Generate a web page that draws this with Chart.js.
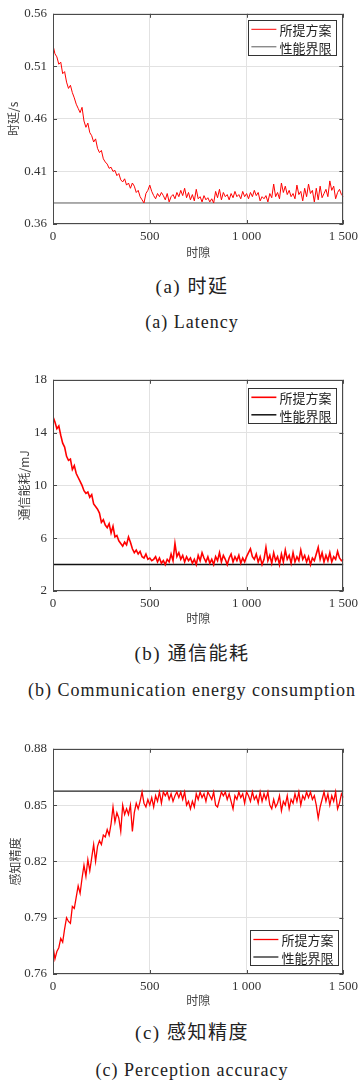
<!DOCTYPE html>
<html>
<head>
<meta charset="utf-8">
<script src="https://cdn.jsdelivr.net/npm/chart.js@4.4.0/dist/chart.umd.min.js"></script>
<style>
  body { margin: 0; width: 363px; height: 1085px; background: #fff; position: relative; overflow: hidden;
         font-family: "Liberation Serif", "Noto Sans CJK SC", serif; color: #222; }
  .box { position: absolute; left: 0; width: 363px; }
  .cap { position: absolute; left: 0; width: 384px; text-align: center; line-height: 22px; white-space: nowrap; }
  .zh { font-size: 19px; letter-spacing: 1.5px; }
  .en { font-size: 18px; letter-spacing: 1px; }
</style>
</head>
<body>

<div class="box" id="w1" style="top:0px;height:262px"><canvas id="c1"></canvas></div>
<div class="cap zh" style="top:276px">(a) 时延</div>
<div class="cap en" style="top:311px">(a) Latency</div>

<div class="box" id="w2" style="top:366px;height:262px"><canvas id="c2"></canvas></div>
<div class="cap zh" style="top:643px">(b) 通信能耗</div>
<div class="cap en" style="top:679px">(b) Communication energy consumption</div>

<div class="box" id="w3" style="top:735px;height:275px"><canvas id="c3"></canvas></div>
<div class="cap zh" style="top:1022px">(c) 感知精度</div>
<div class="cap en" style="top:1059px">(c) Perception accuracy</div>

<script>
// time slots, every 10th slot
const slots = Array.from({length: 151}, (_, i) => i * 10);
const xTicks = [0, 500, 1000, 1500];
const xTickLabels = ['0', '500', '1 000', '1 500'];
const seriesNames = ['所提方案', '性能界限'];

// (a) latency
const latency = [
  0.530, 0.522, 0.519, 0.512, 0.514, 0.503, 0.505, 0.495, 0.489, 0.492,
  0.485, 0.480, 0.474, 0.470, 0.466, 0.471, 0.458, 0.452, 0.456, 0.447,
  0.444, 0.438, 0.441, 0.432, 0.428, 0.430, 0.422, 0.419, 0.417, 0.413,
  0.414, 0.410, 0.411, 0.406, 0.408, 0.402, 0.400, 0.403, 0.397, 0.399,
  0.394, 0.399, 0.396, 0.390, 0.392, 0.386, 0.383, 0.380, 0.389, 0.392,
  0.397, 0.391, 0.387, 0.384, 0.389, 0.386, 0.390, 0.387, 0.383, 0.389,
  0.381, 0.386, 0.388, 0.384, 0.390, 0.386, 0.392, 0.387, 0.394, 0.385,
  0.390, 0.383, 0.388, 0.382, 0.393, 0.384, 0.386, 0.381, 0.387, 0.383,
  0.385, 0.381, 0.384, 0.380, 0.391, 0.385, 0.393, 0.383, 0.390, 0.386,
  0.388, 0.383, 0.389, 0.385, 0.391, 0.386, 0.388, 0.384, 0.391, 0.386,
  0.389, 0.384, 0.390, 0.386, 0.392, 0.387, 0.390, 0.382, 0.386, 0.384,
  0.387, 0.381, 0.389, 0.385, 0.398, 0.386, 0.390, 0.384, 0.399, 0.390,
  0.396, 0.388, 0.392, 0.386, 0.389, 0.384, 0.397, 0.388, 0.391, 0.382,
  0.394, 0.386, 0.398, 0.389, 0.392, 0.381, 0.394, 0.383, 0.396, 0.385,
  0.389, 0.393, 0.386, 0.401, 0.392, 0.396, 0.384, 0.390, 0.393, 0.388,
  0.386
];
const latencyBound = 0.38;
const latencyTicks = [0.36, 0.41, 0.46, 0.51, 0.56];
const latencyTickLabels = ['0.36', '0.41', '0.46', '0.51', '0.56'];

// (b) communication energy
const energy = [
  15.2, 14.8, 14.3, 14.5, 13.8, 13.2, 12.9, 12.2, 11.9, 12.0,
  11.2, 11.5, 10.9, 10.6, 10.3, 10.0, 9.6, 9.4, 9.5, 9.1,
  9.3, 8.6, 8.4, 8.2, 7.9, 7.2, 7.4, 7.0, 6.8, 7.1,
  6.4, 6.9, 6.1, 6.2, 5.8, 5.6, 5.4, 5.7, 5.5, 6.1,
  5.7, 5.2, 4.9, 5.1, 4.8, 5.0, 4.6, 4.5, 4.8, 4.4,
  4.5, 4.3, 4.4, 4.6, 4.2, 4.5, 4.1, 4.3, 4.0, 4.4,
  4.2, 4.8, 4.3, 5.6, 4.6, 4.9, 4.4, 4.7, 4.2, 4.6,
  4.3, 4.5, 4.1, 4.4, 4.0, 4.7, 4.3, 4.9, 4.5, 4.2,
  4.6, 4.1, 4.4, 4.0, 4.6, 4.3, 4.9, 4.2, 4.7, 4.4,
  4.0, 4.5, 4.8, 4.2, 4.6, 4.3, 4.7, 4.1, 4.5, 4.2,
  4.6, 4.9, 5.2, 4.6, 4.4, 4.8, 4.2, 4.6, 4.0, 4.4,
  5.3, 4.3, 4.7, 4.1, 4.9, 4.3, 4.6, 4.0, 4.8, 4.2,
  5.1, 4.4, 4.7, 4.1, 4.9, 4.2, 4.6, 4.3, 5.1, 4.4,
  4.7, 4.2, 4.6, 4.0, 4.5, 4.3, 4.8, 5.3, 4.4, 4.9,
  4.2, 4.7, 4.3, 4.9, 4.2, 4.6, 4.4, 5.0, 4.5, 4.3,
  4.4
];
const energyBound = 4;
const energyTicks = [2, 6, 10, 14, 18];
const energyTickLabels = ['2', '6', '10', '14', '18'];

// (c) perception accuracy
const accuracy = [
  0.775, 0.768, 0.772, 0.774, 0.779, 0.777, 0.784, 0.790, 0.788, 0.787,
  0.796, 0.795, 0.801, 0.807, 0.803, 0.811, 0.818, 0.812, 0.821, 0.815,
  0.822, 0.829, 0.820, 0.828, 0.831, 0.829, 0.834, 0.833, 0.837, 0.834,
  0.840, 0.849, 0.841, 0.846, 0.843, 0.836, 0.850, 0.845, 0.848, 0.845,
  0.850, 0.836, 0.846, 0.851, 0.848, 0.852, 0.857, 0.851, 0.849, 0.853,
  0.850, 0.854, 0.849, 0.855, 0.852, 0.857, 0.851, 0.857, 0.855, 0.857,
  0.853, 0.856, 0.852, 0.855, 0.857, 0.854, 0.857, 0.853, 0.857, 0.850,
  0.852, 0.848, 0.852, 0.849, 0.856, 0.853, 0.857, 0.854, 0.856, 0.852,
  0.857, 0.855, 0.853, 0.857, 0.850, 0.849, 0.853, 0.857, 0.855, 0.857,
  0.853, 0.856, 0.852, 0.848, 0.855, 0.853, 0.857, 0.854, 0.856, 0.851,
  0.857, 0.855, 0.852, 0.857, 0.853, 0.855, 0.851, 0.857, 0.852, 0.856,
  0.853, 0.857, 0.850, 0.848, 0.853, 0.849, 0.851, 0.855, 0.847, 0.852,
  0.850, 0.855, 0.848, 0.853, 0.851, 0.856, 0.852, 0.857, 0.850, 0.855,
  0.853, 0.857, 0.854, 0.857, 0.853, 0.855, 0.850, 0.843, 0.849, 0.853,
  0.857, 0.852, 0.856, 0.850, 0.855, 0.852, 0.857, 0.848, 0.851, 0.856,
  0.854
];
const accuracyBound = 0.8575;
const accuracyTicks = [0.76, 0.79, 0.82, 0.85, 0.88];
const accuracyTickLabels = ['0.76', '0.79', '0.82', '0.85', '0.88'];

const serif = 'Liberation Serif';
const cjk = '"Noto Sans CJK SC"';

// box round the plot, with inward ticks on all four sides
const framePlugin = {
  id: 'frame',
  afterDatasetsDraw(chart) {
    const {ctx, chartArea: a, scales: {x, y}} = chart;
    ctx.save();
    ctx.strokeStyle = '#4a4a4a';
    ctx.lineWidth = 1;
    ctx.strokeRect(Math.round(a.left) + 0.5, Math.round(a.top) + 0.5,
                   Math.round(a.right - a.left) - 1, Math.round(a.bottom - a.top) - 1);
    ctx.beginPath();
    x.ticks.forEach(t => {
      const px = Math.round(x.getPixelForValue(t.value)) + 0.5;
      ctx.moveTo(px, a.bottom); ctx.lineTo(px, a.bottom - 4);
      ctx.moveTo(px, a.top); ctx.lineTo(px, a.top + 4);
    });
    y.ticks.forEach(t => {
      const py = Math.round(y.getPixelForValue(t.value)) + 0.5;
      ctx.moveTo(a.left, py); ctx.lineTo(a.left + 4, py);
      ctx.moveTo(a.right, py); ctx.lineTo(a.right - 4, py);
    });
    ctx.stroke();
    ctx.restore();
  }
};

// MATLAB style legend with a border
const boxLegend = {
  id: 'boxLegend',
  afterDraw(chart, args, opts) {
    const {ctx, chartArea: a} = chart;
    const w = 88, h = 35;
    const left = a.right - opts.right - w;
    const top = opts.bottom != null ? a.bottom - opts.bottom - h : a.top + opts.top;
    ctx.save();
    ctx.fillStyle = '#fff';
    ctx.fillRect(left, top, w, h);
    ctx.strokeStyle = '#333';
    ctx.lineWidth = 1;
    ctx.strokeRect(Math.round(left) + 0.5, Math.round(top) + 0.5, w, h);
    ctx.font = '13px ' + cjk;
    ctx.textBaseline = 'middle';
    chart.data.datasets.forEach((ds, i) => {
      const yy = top + 9.5 + i * 17.5;
      ctx.strokeStyle = ds.borderColor;
      ctx.lineWidth = ds.borderWidth;
      ctx.beginPath();
      ctx.moveTo(left + 3, yy); ctx.lineTo(left + 28, yy);
      ctx.stroke();
      ctx.fillStyle = '#222';
      ctx.fillText(ds.label, left + 31, yy + 1);
    });
    ctx.restore();
  }
};

function makeChart(id, o) {
  return new Chart(document.getElementById(id), {
    type: 'line',
    data: {
      labels: slots,
      datasets: [
        { label: seriesNames[0], data: o.values, borderColor: '#ff0000', borderWidth: o.redWidth,
          pointRadius: 0, tension: 0 },
        { label: seriesNames[1], data: [{x: 0, y: o.bound}, {x: 1500, y: o.bound}],
          borderColor: o.boundColor, borderWidth: o.boundWidth, pointRadius: 0 }
      ]
    },
    options: {
      responsive: true,
      maintainAspectRatio: false,
      animation: false,
      layout: { padding: { top: o.padTop, right: 16, left: 0, bottom: 0 } },
      plugins: {
        legend: { display: false },
        tooltip: { enabled: false },
        boxLegend: o.legend
      },
      scales: {
        x: {
          type: 'linear', min: 0, max: 1500,
          afterBuildTicks: s => { s.ticks = xTicks.map(v => ({value: v})); },
          afterFit: s => { s.height = o.xHeight; },
          ticks: { font: {family: serif, size: 13}, color: '#333', padding: 5, maxRotation: 0,
                   autoSkip: false, callback: (v, i) => xTickLabels[i] },
          grid: { color: '#e2e2e2', drawTicks: false },
          border: { display: false },
          title: { display: true, text: '时隙', font: {family: cjk, size: 12}, color: '#444',
                   padding: {top: 0, bottom: 2} }
        },
        y: {
          min: o.ticks[0], max: o.ticks[o.ticks.length - 1],
          afterBuildTicks: s => { s.ticks = o.ticks.map(v => ({value: v})); },
          afterFit: s => { s.width = 53; },
          ticks: { font: {family: serif, size: 13}, color: '#333', padding: 6,
                   callback: (v, i) => o.tickLabels[i] },
          grid: { color: '#e2e2e2', drawTicks: false },
          border: { display: false },
          title: { display: true, text: o.yTitle, font: {family: cjk, size: 12}, color: '#444',
                   padding: {top: o.yTitlePad, bottom: 0} }
        }
      }
    },
    plugins: [framePlugin, boxLegend]
  });
}

makeChart('c1', {
  values: latency, bound: latencyBound, ticks: latencyTicks, tickLabels: latencyTickLabels,
  yTitle: '时延/s', yTitlePad: 6, padTop: 7, xHeight: 38,
  redWidth: 1, boundColor: '#5a5a5a', boundWidth: 1,
  legend: { right: 7, top: 6 }
});

makeChart('c2', {
  values: energy, bound: energyBound, ticks: energyTicks, tickLabels: energyTickLabels,
  yTitle: '通信能耗/mJ', yTitlePad: 17, padTop: 12, xHeight: 37,
  redWidth: 1.6, boundColor: '#111', boundWidth: 1.5,
  legend: { right: 7, top: 8 }
});

makeChart('c3', {
  values: accuracy, bound: accuracyBound, ticks: accuracyTicks, tickLabels: accuracyTickLabels,
  yTitle: '感知精度', yTitlePad: 8, padTop: 10, xHeight: 36,
  redWidth: 1.3, boundColor: '#222', boundWidth: 1.3,
  legend: { right: 5, bottom: 9 }
});
</script>
</body>
</html>
